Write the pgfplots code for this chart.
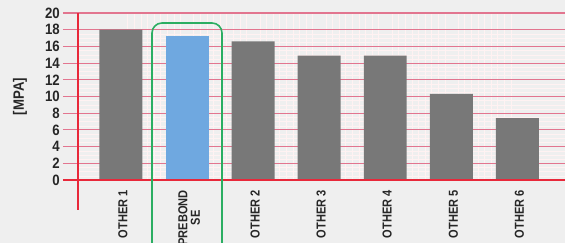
\documentclass[border=0pt]{standalone}
\usepackage{pgfplots}
\pgfplotsset{compat=1.18}
\usepackage{fontspec}
\setmainfont{Liberation Sans}
\newfontfamily\narrowbf[FakeStretch=0.88]{Liberation Sans}
\newfontfamily\narrowxbf[FakeStretch=0.85]{Liberation Sans}
\definecolor{bg}{HTML}{EFEFEF}
\definecolor{gridpink}{HTML}{E2758F}
\definecolor{axred}{HTML}{E8283A}
\definecolor{bargray}{HTML}{787878}
\definecolor{barblue}{HTML}{6FA8E0}
\definecolor{boxgreen}{HTML}{2BAE62}
\begin{document}
\begin{tikzpicture}
\path[use as bounding box] (0,0) rectangle (565bp,243bp);
\clip (0,0) rectangle (565bp,243bp);
\fill[bg] (0,0) rectangle (565bp,243bp);
\begin{axis}[
  at={(78bp,63bp)}, anchor=south west,
  scale only axis, width=487bp, height=167bp,
  xmin=-0.65, xmax=6.72, ymin=0, ymax=20,
  ybar, bar shift=0pt, bar width=0.65,
  axis line style={draw=none},
  ytick={0,2,...,18},
  extra y ticks={20},
  extra y tick style={grid style={gray!45, line width=1bp}, tick style={axred, line width=1bp}},
  xtick={0,...,6},
  xticklabels={OTHER 1,{PREBOND\\SE},OTHER 2,OTHER 3,OTHER 4,OTHER 5,OTHER 6},
  xticklabel style={rotate=90, anchor=east, align=center, inner sep=1bp, yshift=-2bp, xshift=6bp, text=black!85,
    font=\fontsize{13bp}{12.5bp}\selectfont\narrowxbf\bfseries},
  yticklabel style={text=black!85, inner sep=1bp, xshift=-2bp},
  ylabel={[MPA]},
  ylabel style={at={(rel axis cs:-0.119,0.5)}, anchor=center, text=black!85},
  font=\fontsize{15bp}{14bp}\selectfont\narrowbf\bfseries,
  /pgf/number format/assume math mode=true,
  ymajorgrids, yminorgrids, xminorgrids,
  minor y tick num=3, minor x tick num=9,
  major grid style={gridpink, line width=1.1bp},
  minor grid style={red!5, line width=0.4bp},
  y tick style={gridpink, line width=1.1bp},
  major tick length=15bp, minor tick length=0pt,
  x tick style={draw=none},
  tick align=outside,
  clip=false,
]
\addplot[fill=bargray, draw=none] coordinates {(0,18) (2,16.6) (3,14.9) (4,14.9) (5,10.3) (6,7.4)};
\addplot[fill=barblue, draw=none] coordinates {(1,17.2)};
\end{axis}
\draw[axred, line width=1.3bp] (63bp,63bp) -- (565bp,63bp);
\draw[axred, line width=1.3bp] (78bp,230bp) -- (78bp,33bp);
\draw[boxgreen, line width=1.6bp, rounded corners=10bp] (152bp,-20bp) rectangle (222bp,220bp);
\end{tikzpicture}
\end{document}
